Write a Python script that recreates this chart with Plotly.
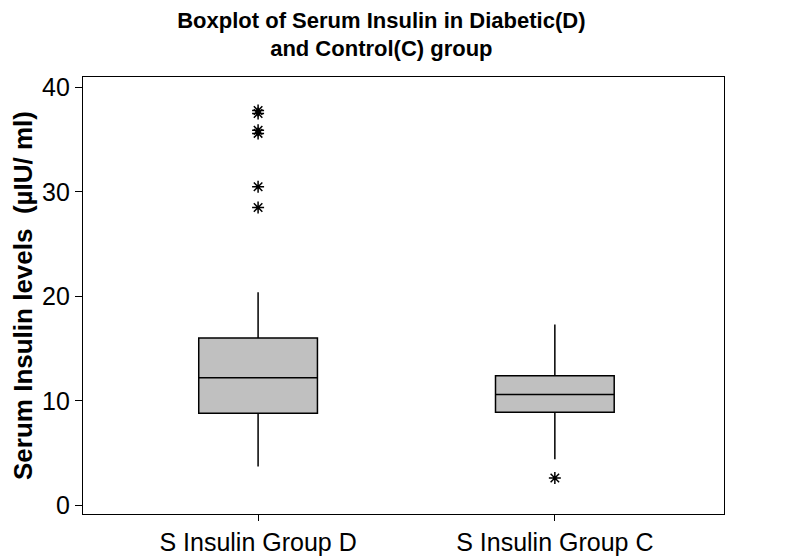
import plotly.graph_objects as go

# data
groups = ["S Insulin Group D", "S Insulin Group C"]
q1 = [8.8, 8.9]
median = [12.2, 10.6]
q3 = [16.0, 12.4]
lower_whisker = [3.7, 4.4]
upper_whisker = [20.4, 17.3]

outliers_d = [37.8, 37.5, 35.9, 35.6, 30.5, 28.5]
outliers_c = [2.6]

fig = go.Figure()

fig.add_trace(go.Box(
    x=groups,
    q1=q1,
    median=median,
    q3=q3,
    lowerfence=lower_whisker,
    upperfence=upper_whisker,
    fillcolor="#c0c0c0",
    line={"color": "black", "width": 1.5},
    whiskerwidth=0,
    width=0.4,
    boxpoints=False,
    hoverinfo="y",
))

# outliers drawn as asterisks
fig.add_trace(go.Scatter(
    x=[groups[0]] * len(outliers_d) + [groups[1]] * len(outliers_c),
    y=outliers_d + outliers_c,
    mode="markers",
    marker={"symbol": "asterisk-open", "size": 10, "color": "black",
            "line": {"color": "black", "width": 1.5}},
))

fig.update_layout(
    width=786,
    height=560,
    title={"text": "<b>Boxplot of Serum Insulin in Diabetic(D)<br>and Control(C) group</b>",
           "x": 0.475, "xanchor": "center", "y": 0.965, "yanchor": "top",
           "font": {"size": 22, "family": "Liberation Sans, Arial", "color": "black"}},
    font={"family": "Liberation Sans, Arial", "color": "black"},
    plot_bgcolor="white",
    paper_bgcolor="white",
    showlegend=False,
    margin={"l": 74, "r": 70, "t": 69, "b": 35},
    xaxis={
        "type": "category",
        "range": [-0.59, 1.57],
        "showline": True, "linecolor": "black", "linewidth": 1.2, "mirror": True,
        "ticks": "outside", "ticklen": 6, "tickcolor": "black",
        "tickfont": {"size": 25},
        "showgrid": False,
    },
    yaxis={
        "range": [-0.84, 41.0],
        "tickvals": [0, 10, 20, 30, 40],
        "showline": True, "linecolor": "black", "linewidth": 1.2, "mirror": True,
        "ticks": "outside", "ticklen": 7, "tickcolor": "black",
        "tickfont": {"size": 25},
        "showgrid": False, "zeroline": False,
        "title": {"text": "<b>Serum Insulin levels  (µIU/ ml)</b>", "font": {"size": 26},
                  "standoff": 4},
    },
)

fig.write_html("out.html")
